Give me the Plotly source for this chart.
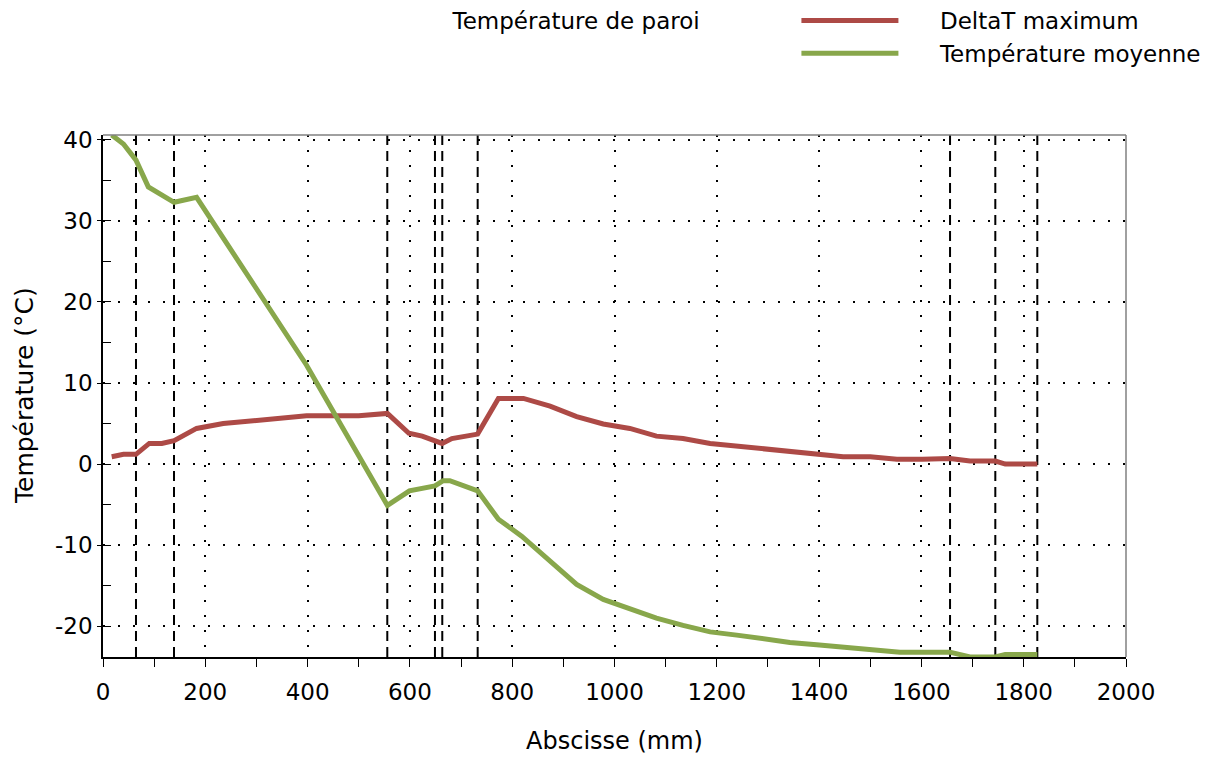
import plotly.graph_objects as go

# Data
x_deltat = [17, 40, 64.5, 90.5, 115, 139, 183, 235, 398, 500, 556, 598, 624, 663, 682, 732.5, 773,
            822, 874, 926, 978, 1030, 1082, 1134, 1187, 1239, 1291, 1343, 1395, 1447, 1500, 1552,
            1602, 1656, 1695, 1744.5, 1764, 1826.6]
y_deltat = [0.9, 1.2, 1.2, 2.55, 2.55, 2.9, 4.4, 5.0, 5.95, 5.95, 6.25, 3.8, 3.45, 2.55, 3.15, 3.7, 8.1,
            8.1, 7.15, 5.85, 4.95, 4.4, 3.45, 3.15, 2.55, 2.2, 1.9, 1.6, 1.25, 0.9, 0.9, 0.6,
            0.6, 0.7, 0.37, 0.37, 0.0, 0.0]

x_moy = [17, 40, 64.5, 88.6, 139, 183, 398, 556, 599, 649, 665, 678, 732.5, 773, 818.5,
         926, 978, 1030, 1082, 1134, 1187, 1239, 1291, 1343, 1395, 1447, 1500, 1558,
         1656, 1695, 1744.5, 1764, 1826.6]
y_moy = [40.6, 39.5, 37.5, 34.2, 32.3, 32.9, 12.2, -5.1, -3.3, -2.7, -2.05, -2.05, -3.3, -6.8, -8.9,
         -14.85, -16.7, -17.9, -19.0, -19.9, -20.7, -21.1, -21.6, -22.0, -22.3, -22.55, -22.9, -23.2,
         -23.2, -23.8, -23.8, -23.5, -23.5]

sections = [64.5, 138.8, 555.8, 649, 663.3, 732.5, 1656, 1744.5, 1826.6]

x_ticks = [0, 200, 400, 600, 800, 1000, 1200, 1400, 1600, 1800, 2000]
y_ticks = [-20, -10, 0, 10, 20, 30, 40]

x_title = "Abscisse (mm)"
y_title = "Température (°C)"
legend_title = "Température de paroi"

RED = "#AD4A46"
GREEN = "#88A74B"
FONT = "DejaVu Sans"
GAP = "\u00a0" * 5

fig = go.Figure()
fig.add_trace(go.Scatter(x=x_deltat, y=y_deltat, mode="lines", name=GAP + "DeltaT maximum",
                         line=dict(color=RED, width=5)))
fig.add_trace(go.Scatter(x=x_moy, y=y_moy, mode="lines", name=GAP + "Température moyenne",
                         line=dict(color=GREEN, width=5)))

for s in sections:
    fig.add_shape(type="line", xref="x", yref="paper", x0=s, x1=s, y0=0, y1=1,
                  line=dict(color="black", width=2, dash="10px,6px"), layer="below")

# top and right frame lines (grey)
fig.add_shape(type="line", xref="paper", yref="paper", x0=0, x1=1, y0=1, y1=1,
              line=dict(color="#808080", width=1.5))
fig.add_shape(type="line", xref="paper", yref="paper", x0=1, x1=1, y0=0, y1=1,
              line=dict(color="#808080", width=1.5))

# y axis title
fig.add_annotation(text=y_title, xref="paper", yref="paper", x=-0.0772, y=0.5,
                   xanchor="center", yanchor="middle", textangle=-90, showarrow=False,
                   font=dict(family=FONT, size=25, color="black"))

fig.update_layout(
    width=1220, height=760,
    margin=dict(l=95, r=102, t=127, b=111, autoexpand=False),
    paper_bgcolor="white", plot_bgcolor="white",
    font=dict(family=FONT, size=23, color="black"),
    legend=dict(
        x=0.3397, y=1.2605, xanchor="left", yanchor="top",
        title=dict(text=legend_title + "\u00a0" * 12, side="left",
                   font=dict(family=FONT, size=23)),
        font=dict(family=FONT, size=23),
        itemwidth=97, tracegroupgap=0,
        bgcolor="rgba(0,0,0,0)",
    ),
    xaxis=dict(
        range=[0, 2000], tickvals=x_ticks, ticktext=[str(v) for v in x_ticks],
        showgrid=True, gridcolor="black", gridwidth=2, griddash="2px,13px",
        showline=True, linecolor="black", linewidth=1.5,
        ticks="outside", ticklen=8, tickcolor="black", ticklabelstandoff=6,
        minor=dict(dtick=100, tick0=0, ticks="outside", ticklen=8, tickcolor="black", showgrid=False),
        title=dict(text=x_title, font=dict(family=FONT, size=24), standoff=28),
        zeroline=False,
    ),
    yaxis=dict(
        range=[-23.8, 40.6], tickvals=y_ticks, ticktext=[str(v) for v in y_ticks],
        showgrid=True, gridcolor="black", gridwidth=2, griddash="2px,13px",
        showline=True, linecolor="black", linewidth=1.5,
        ticks="outside", ticklen=4, tickcolor="black",
        minor=dict(dtick=5, tick0=0, ticks="inside", ticklen=8, tickcolor="black", showgrid=False),
        zeroline=False,
    ),
)

fig.write_html("out.html")
